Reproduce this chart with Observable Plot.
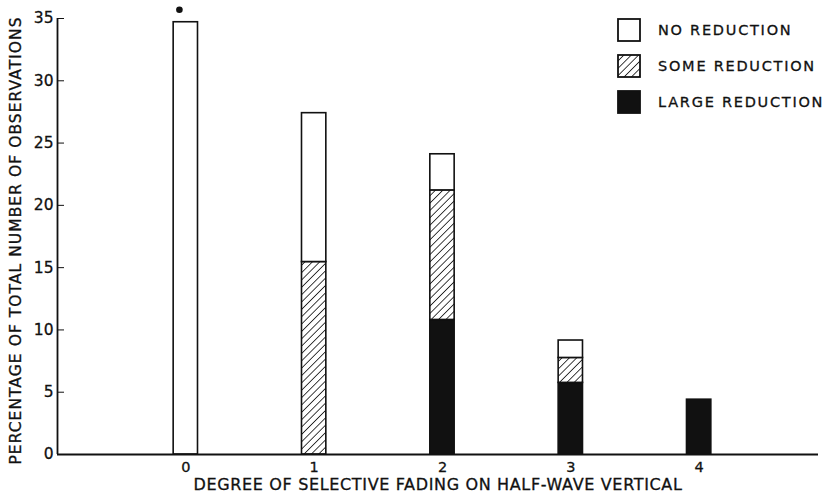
<!DOCTYPE html>
<html>
<head>
<meta charset="utf-8">
<script src="https://cdn.jsdelivr.net/npm/d3@7"></script>
<script src="https://cdn.jsdelivr.net/npm/@observablehq/plot@0.6"></script>
<style>
  html, body { margin: 0; padding: 0; background: #fff; }
  #wrap { position: relative; width: 826px; height: 495px; font-family: "DejaVu Sans", sans-serif; }
  #legend { position: absolute; left: 617px; top: 12px; width: 209px; }
  .item { display: flex; align-items: center; height: 36px; white-space: nowrap; }
  .item svg { margin-right: 17px; flex: none; }
  .item span { font-size: 14.5px; letter-spacing: 1.75px; color: #111; -webkit-text-stroke: 0.3px #111; white-space: nowrap; }
  svg text { stroke: #111; stroke-width: 0.3px; }
</style>
</head>
<body>
<svg width="0" height="0" style="position:absolute">
  <defs>
    <pattern id="hatch" patternUnits="userSpaceOnUse" width="5.2" height="5.2" patternTransform="rotate(45)">
      <rect width="5.2" height="5.2" fill="white"></rect>
      <line x1="0" y1="0" x2="0" y2="5.2" stroke="#111" stroke-width="1.6"></line>
    </pattern>
  </defs>
</svg>
<div id="wrap">
  <div id="chart"></div>
  <div id="legend"></div>
</div>
<script>
// ---- data ----
const degrees = [0, 1, 2, 3, 4];
const largeReduction = [0, 0, 10.8, 5.75, 4.4];
const someReduction = [0, 15.45, 10.4, 2.0, 0];
const noReduction = [34.7, 11.95, 2.9, 1.4, 0];
const seriesNames = ["LARGE REDUCTION", "SOME REDUCTION", "NO REDUCTION"];
const seriesFills = ["#111", "url(#hatch)", "white"];
const yTicks = [0, 5, 10, 15, 20, 25, 30, 35];
const xTickLabels = ["0", "1", "2", "3", "4"];
const xDomain = [-1, 4.93];
const noteDot = [{degree: -0.05, value: 35.7}];

// ---- build stacked table ----
const seriesValues = [largeReduction, someReduction, noReduction];
const rows = [];
degrees.forEach((d, i) => {
  let acc = 0;
  seriesValues.forEach((vals, s) => {
    const v = vals[i];
    if (v > 0) {
      rows.push({degree: d, series: seriesNames[s], fill: seriesFills[s], y1: acc, y2: acc + v});
      acc += v;
    }
  });
});

const font = "DejaVu Sans, sans-serif";

const chart = Plot.plot({
  width: 826,
  height: 495,
  marginLeft: 57,
  marginRight: 8,
  marginTop: 18,
  marginBottom: 41,
  style: {fontFamily: font, color: "#111", background: "white"},
  x: {domain: xDomain},
  y: {domain: [0, 35]},
  marks: [
    Plot.rectY(rows, {
      x1: d => d.degree - 0.5,
      x2: d => d.degree + 0.5,
      y1: "y1",
      y2: "y2",
      insetLeft: 52,
      insetRight: 52,
      fill: d => d.fill,
      stroke: "#111",
      strokeWidth: 1.6
    }),
    Plot.dot(noteDot, {x: "degree", y: "value", r: 3.3, fill: "#111"}),
    Plot.ruleY([0], {stroke: "#111", strokeWidth: 1.8}),
    Plot.ruleX([xDomain[0]], {y1: 0, y2: 35, stroke: "#111", strokeWidth: 1.8}),
    Plot.axisY({
      ticks: yTicks,
      tickSize: -7,
      tickPadding: 11,
      fontSize: 15.5,
      tickFormat: d => String(d),
      label: "PERCENTAGE OF TOTAL NUMBER OF OBSERVATIONS",
      labelAnchor: "center",
      labelArrow: "none",
      labelOffset: 48
    }),
    Plot.axisX({
      ticks: degrees,
      tickSize: 0,
      tickPadding: 7,
      fontSize: 14.5,
      tickFormat: (d, i) => xTickLabels[i],
      label: "DEGREE OF SELECTIVE FADING ON HALF-WAVE VERTICAL",
      labelAnchor: "center",
      labelArrow: "none",
      labelOffset: 35
    })
  ]
});
document.getElementById("chart").appendChild(chart);

// style axis labels
chart.querySelectorAll("[aria-label='y-axis label'] text").forEach(t => {
  t.setAttribute("font-size", "15.5");
  t.style.letterSpacing = "1.05px";
  t.setAttribute("dx", "-4");
});
chart.querySelectorAll("[aria-label='x-axis label'] text").forEach(t => {
  t.setAttribute("font-size", "16");
  t.style.letterSpacing = "0.65px";
});

// legend (top-down order)
const legend = d3.select("#legend");
[2, 1, 0].forEach(s => {
  const item = legend.append("div").attr("class", "item");
  const svg = item.append("svg").attr("width", 24).attr("height", 24);
  svg.append("rect").attr("x", 1).attr("y", 1).attr("width", 22).attr("height", 22)
    .attr("fill", seriesFills[s]).attr("stroke", "#111").attr("stroke-width", 1.8);
  item.append("span").text(seriesNames[s]);
});
</script>
</body>
</html>
